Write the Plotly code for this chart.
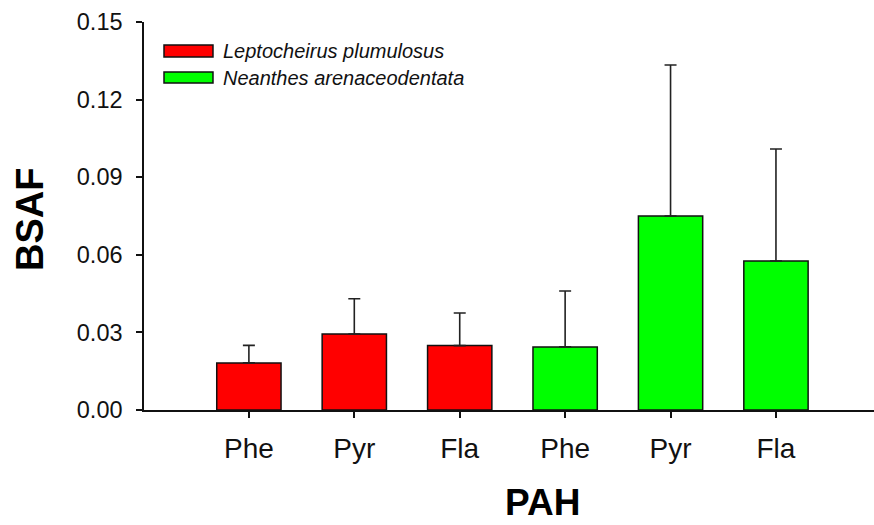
import plotly.graph_objects as go

# PAH categories on the x axis (three per species)
tick_labels = ["Phe", "Pyr", "Fla", "Phe", "Pyr", "Fla"]
lepto_x = [0, 1, 2]
neanthes_x = [3, 4, 5]

# BSAF means and upper standard deviations
lepto_mean = [0.0182, 0.0294, 0.0249]
lepto_sd = [0.0068, 0.0136, 0.0126]
neanthes_mean = [0.0244, 0.0750, 0.0576]
neanthes_sd = [0.0216, 0.0584, 0.0433]

species = ["Leptocheirus plumulosus", "Neanthes arenaceodentata"]
colors = ["#FF0000", "#00FF00"]

FONT = "Liberation Sans, Arial, sans-serif"

fig = go.Figure()
for xs, ys, sd, col, name in [
    (lepto_x, lepto_mean, lepto_sd, colors[0], species[0]),
    (neanthes_x, neanthes_mean, neanthes_sd, colors[1], species[1]),
]:
    fig.add_trace(go.Bar(
        x=xs, y=ys, name=name, width=0.61,
        marker=dict(color=col, line=dict(color="#111111", width=1.5)),
        error_y=dict(type="data", array=sd, arrayminus=[0] * len(sd),
                     symmetric=False, color="#222222", thickness=1.6, width=6),
        showlegend=False,
    ))

# Legend: wide swatches with italic species names
swatch_rows = [(0.9407, 0.9098), (0.8711, 0.8428)]
for (y1, y0), col, name in zip(swatch_rows, colors, species):
    fig.add_shape(type="rect", xref="paper", yref="paper",
                  x0=0.0274, x1=0.0945, y0=y0, y1=y1,
                  fillcolor=col, line=dict(color="#111111", width=1.5))
    fig.add_annotation(xref="paper", yref="paper", x=0.106, y=(y0 + y1) / 2,
                       text=f"<i>{name}</i>", showarrow=False,
                       xanchor="left", yanchor="middle",
                       font=dict(family=FONT, size=20, color="#111111"))

# Axis titles
fig.add_annotation(xref="paper", yref="paper", x=(542 - 144) / 730, y=-115 / 388,
                   text="<b>PAH</b>", showarrow=False, xanchor="center", yanchor="bottom",
                   font=dict(family=FONT, size=37, color="black"))
fig.add_annotation(xref="paper", yref="paper", x=(30 - 144) / 730, y=(410 - 220) / 388,
                   text="<b>BSAF</b>", showarrow=False, textangle=-90,
                   xanchor="center", yanchor="middle",
                   font=dict(family=FONT, size=38, color="black"))

fig.update_layout(
    width=874, height=525,
    margin=dict(l=144, r=0, t=22, b=115),
    paper_bgcolor="white", plot_bgcolor="white",
    font=dict(family=FONT, color="black"),
)
fig.update_xaxes(
    range=[-0.995, 5.93], tickvals=list(range(6)), ticktext=tick_labels,
    showline=True, linecolor="#111111", linewidth=1.5,
    ticks="outside", ticklen=6, tickwidth=1.5, tickcolor="#111111",
    showgrid=False, zeroline=False, ticklabelstandoff=7,
    tickfont=dict(family=FONT, size=28, color="#111111"),
)
fig.update_yaxes(
    range=[0, 0.15], tickvals=[0, 0.03, 0.06, 0.09, 0.12, 0.15], tickformat=".2f",
    showline=True, linecolor="#111111", linewidth=1.5,
    ticks="outside", ticklen=6, tickwidth=1.5, tickcolor="#111111",
    showgrid=False, zeroline=False, ticklabelstandoff=9,
    tickfont=dict(family=FONT, size=23.5, color="#111111"),
)

fig.write_html("out.html")
